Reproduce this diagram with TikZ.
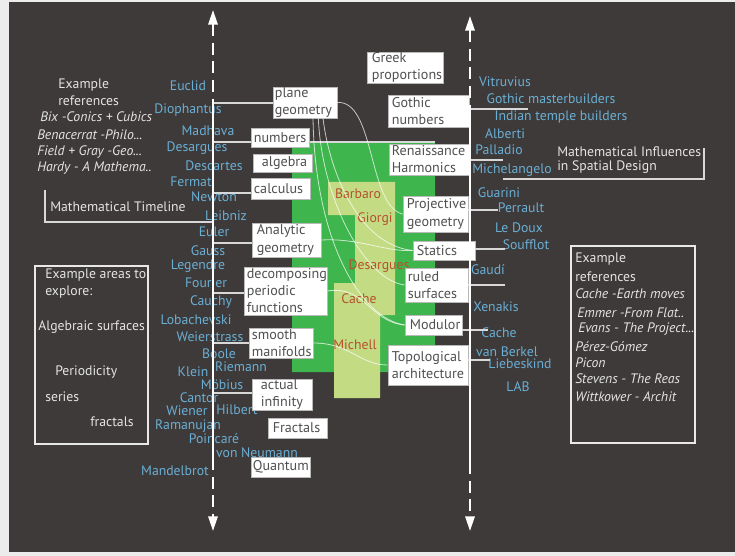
\documentclass[tikz,border=0pt]{standalone}
\usepackage{fontspec}
\setmainfont{PT Sans}
\usetikzlibrary{arrows.meta}
\definecolor{bgc}{HTML}{3E3A39}
\definecolor{namec}{HTML}{6AAFD5}
\definecolor{dgreen}{HTML}{3FB54D}
\definecolor{lgreen}{HTML}{C3DC84}
\definecolor{rust}{HTML}{B5502C}
\definecolor{wtext}{HTML}{E4E4E4}
\definecolor{btext}{HTML}{505050}
\definecolor{linec}{HTML}{D8D8D8}
\newcommand\wbx[7]{%
  \node[boxr,minimum width=#4*0.75pt,minimum height=#5*0.75pt] (#1) at (#2,#3) {};
  \node[boxt] (#1t) at ([xshift=#6*0.75pt]#1.west) {#7};}
\begin{document}
\begin{tikzpicture}[x=0.75pt,y=-0.75pt,
 nm/.style={text=namec,font=\fontsize{10.3}{12}\selectfont,inner sep=0pt},
 wt/.style={text=wtext,font=\fontsize{10.3}{12.5}\selectfont,inner sep=0pt,anchor=west,align=left},
 wti/.style={text=wtext,font=\fontsize{10.3}{12.5}\selectfont\itshape,inner sep=0pt,anchor=west,align=left},
 boxr/.style={draw=gray!55,fill=white,line width=0.6pt,inner sep=0pt},
 boxt/.style={text=btext,font=\fontsize{10.6}{12.8}\selectfont,inner sep=0pt,anchor=west,align=left},
 gt/.style={text=rust,font=\fontsize{10.3}{12}\selectfont,inner sep=0pt},
 frame/.style={draw=wtext!85,line width=1.1pt,inner sep=0pt},
 conn/.style={draw=linec,line width=0.9pt},
 curve/.style={draw=white,opacity=0.7,line width=0.6pt},
 axis/.style={draw=white,line width=1.6pt},
 dsh/.style={dash pattern=on 9pt off 5pt}
]
\useasboundingbox (0,0) rectangle (735,556);
\fill[gray!15] (0,0) rectangle (735,556);
\fill[bgc] (9,2) rectangle (735,552);

% green areas
\fill[dgreen] (292,142) -- (435,142) -- (435,345) -- (395,345) -- (395,372) -- (292,372) -- cycle;
\fill[lgreen] (328,182) -- (395,182) -- (395,315) -- (380,315) -- (380,398) -- (334,398) -- (334,283) -- (355,283) -- (355,215) -- (328,215) -- cycle;

% green labels
\node[gt] (g1) at (358,194) {Barbaro};
\node[gt] (g2) at (375,219) {Giorgi};
\node[gt] (g3) at (379,266) {Desargues};
\node[gt] (g4) at (359,299) {Cache};
\node[gt] (g5) at (355,345) {Michell};

% left names
\node[nm] (n1) at (188,86) {Euclid};
\node[nm] (n2) at (188,110) {Diophantus};
\node[nm] (n3) at (208,131) {Madhava};
\node[nm] (n4) at (197,148) {Desargues};
\node[nm] (n5) at (214,166) {Descartes};
\node[nm] (n6) at (191,182) {Fermat};
\node[nm] (n7) at (214,197) {Newton};
\node[nm] (n8) at (226,216) {Leibniz};
\node[nm] (n9) at (214,232) {Euler};
\node[nm] (n10) at (208,251) {Gauss};
\node[nm] (n11) at (198,266) {Legendre};
\node[nm] (n12) at (206,283) {Fourier};
\node[nm] (n13) at (211,302) {Cauchy};
\node[nm] (n14) at (196,320) {Lobachevski};
\node[nm] (n15) at (210,337) {Weierstrass};
\node[nm] (n16) at (219,354) {Boole};
\node[nm] (n17) at (193,372) {Klein};
\node[nm] (n18) at (241,367) {Riemann};
\node[nm] (n19) at (222,385) {Möbius};
\node[nm] (n20) at (199,398) {Cantor};
\node[nm] (n21) at (187,411) {Wiener};
\node[nm] (n22) at (237,410) {Hilbert};
\node[nm] (n23) at (188,426) {Ramanujan};
\node[nm] (n24) at (214,439) {Poincaré};
\node[nm] (n25) at (257,453) {von Neumann};
\node[nm] (n26) at (175,471) {Mandelbrot};

% right names
\node[nm] (r1) at (505,82) {Vitruvius};
\node[nm] (r2) at (551,99) {Gothic masterbuilders};
\node[nm] (r3) at (561,117) {Indian temple builders};
\node[nm] (r4) at (505,134) {Alberti};
\node[nm] (r5) at (499,150) {Palladio};
\node[nm] (r6) at (512,170) {Michelangelo};
\node[nm] (r7) at (499,193) {Guarini};
\node[nm] (r8) at (521,208) {Perrault};
\node[nm] (r9) at (519,228) {Le Doux};
\node[nm] (r10) at (526,245) {Soufflot};
\node[nm] (r11) at (488,270) {Gaudí};
\node[nm] (r12) at (496,307) {Xenakis};
\node[nm] (r13) at (499,333) {Cache};
\node[nm] (r14) at (507,352) {van Berkel};
\node[nm] (r15) at (520,364) {Liebeskind};
\node[nm] (r16) at (518,387) {LAB};

% axis coordinates
\coordinate (LT) at (213,10);
\coordinate (LA) at (213,102);
\coordinate (LB) at (213,458);
\coordinate (LE) at (213,531);
\coordinate (RT) at (470,16);
\coordinate (RA) at (470,107);
\coordinate (RB) at (470,462);
\coordinate (RE) at (470,531);

% connector points on the axes
\coordinate (l1) at (213,103);
\coordinate (l2) at (213,142);
\coordinate (l2e) at (435,142);
\coordinate (l3) at (213,193);
\coordinate (l4) at (213,243);
\coordinate (l5) at (213,293);
\coordinate (l6) at (213,343);
\coordinate (l7) at (213,393);
\coordinate (tl1) at (45,190);
\coordinate (tl2) at (45,222);
\coordinate (tl3) at (213,222);
\coordinate (q1) at (470,109);
\coordinate (q1e) at (528,109);
\coordinate (q2) at (503,160);
\coordinate (q3) at (498,210);
\coordinate (q4) at (505,249);
\coordinate (q5) at (505,285);
\coordinate (q6) at (488,330);
\coordinate (q7) at (490,360);
\coordinate (mi1) at (503,179);
\coordinate (mi2) at (704,179);
\coordinate (mi3) at (704,148);

\draw[conn] (l2) -- (l2e);
\draw[conn] (tl1) -- (tl2) -- (tl3);
\draw[conn] (q1) -- (q1e);
\draw[conn] (mi1) -- (mi2) -- (mi3);

% boxes
\wbx{greek}{405}{67.5}{76}{31}{5}{Greek\\proportions}
\wbx{gothic}{428.5}{111}{81}{32}{4}{Gothic\\numbers}
\wbx{renai}{429}{159.5}{80}{31}{3}{Renaissance\\Harmonics}
\wbx{plane}{305}{102.5}{64}{31}{2}{plane\\geometry}
\wbx{numb}{280}{137.5}{58}{19}{3}{numbers}
\wbx{alg}{282.5}{163}{59}{18}{9}{algebra}
\wbx{calc}{280.5}{188.5}{59}{21}{3}{calculus}
\wbx{anal}{286.5}{240}{69}{34}{5}{Analytic\\geometry}
\wbx{decomp}{285.5}{291}{83}{48}{3}{decomposing\\periodic\\functions}
\wbx{smooth}{281}{343}{64}{30}{3}{smooth\\manifolds}
\wbx{actual}{282}{394.5}{60}{31}{9}{actual\\infinity}
\wbx{fract}{297.5}{428}{59}{20}{5}{Fractals}
\wbx{quant}{280.5}{467}{59}{20}{2}{Quantum}
\wbx{proj}{435.5}{214}{65}{36}{4}{Projective\\geometry}
\wbx{stat}{444}{250.5}{62}{19}{4}{Statics}
\wbx{ruled}{436.5}{285}{63}{34}{3}{ruled\\surfaces}
\wbx{modul}{433.5}{325}{57}{20}{5}{Modulor}
\wbx{topo}{428}{365}{80}{40}{4}{Topological\\architecture}

% horizontal connectors
\draw[conn] (l1) -- (l1 -| plane.west);
\draw[conn] (l3) -- (l3 -| calc.west);
\draw[conn] (l4) -- (l4 -| anal.west);
\draw[conn] (l5) -- (l5 -| decomp.west);
\draw[conn] (l6) -- (l6 -| smooth.west);
\draw[conn] (l7) -- (l7 -| actual.west);
\draw[conn] (q2 -| renai.east) -- (q2);
\draw[conn] (q3 -| proj.east) -- (q3);
\draw[conn] (q4 -| stat.east) -- (q4);
\draw[conn] (q5 -| ruled.east) -- (q5);
\draw[conn] (q6 -| modul.east) -- (q6);
\draw[conn] (q7 -| topo.east) -- (q7);

% curves
\draw[curve] (plane.east) .. controls (375,100) and (368,206) .. (proj.west);
\draw[curve] ([xshift=13.5pt]plane.south) .. controls (330,175) and (360,245) .. (stat.west);
\draw[curve] ([xshift=10pt]plane.south) .. controls (322,200) and (365,280) .. (ruled.west);
\draw[curve] ([xshift=6pt]plane.south) .. controls (315,240) and (360,318) .. (modul.west);
\draw[curve] (anal.east) .. controls (360,238) and (385,252) .. (stat.west);
\draw[curve] (decomp.east) .. controls (365,285) and (370,322) .. (modul.west);
\draw[curve] (smooth.east) .. controls (350,343) and (360,365) .. (topo.west);

% axes
\draw[axis,dsh,arrows={Triangle[width=7pt,length=11pt]-}] (LT) -- (LA);
\draw[axis] (LA) -- (LB);
\draw[axis,dsh,arrows={-Triangle[width=7pt,length=11pt]}] (LB) -- (LE);
\draw[axis,dsh,arrows={Triangle[width=7pt,length=11pt]-}] (RT) -- (RA);
\draw[axis] (RA) -- (RB);
\draw[axis,dsh,arrows={-Triangle[width=7pt,length=11pt]}] (RB) -- (RE);

% left references text
\node[wt] (t1) at (58,85) {Example};
\node[wt] (t2) at (58,101) {references};
\node[wti] (t3) at (40,117) {Bix -Conics + Cubics};
\node[wti] (t4) at (37,135) {Benacerrat -Philo...};
\node[wti] (t5) at (37,152) {Field + Gray -Geo...};
\node[wti] (t6) at (37,168) {Hardy - A Mathema..};
\node[wt] (t7) at (50,207) {Mathematical Timeline};
\node[wt] (t8) at (557,152) {Mathematical Influences};
\node[wt] (t9) at (557,167) {in Spatial Design};

% left box
\node[frame,minimum width=113*0.75pt,minimum height=178*0.75pt] (lbox) at (91.5,355) {};
\node[wt] (a1) at (45,275) {Example areas to};
\node[wt] (a2) at (45,292) {explore:};
\node[wt] (a3) at (38,327) {Algebraic surfaces};
\node[wt] (a4) at (55,372) {Periodicity};
\node[wt] (a5) at (45,397) {series};
\node[wt] (a6) at (90,422) {fractals};

% right box
\node[frame,minimum width=124*0.75pt,minimum height=197*0.75pt] (rbox) at (633,344.5) {};
\node[wt] (b1) at (575,259) {Example};
\node[wt] (b2) at (575,277) {references};
\node[wti] (b3) at (575,294) {Cache -Earth moves};
\node[wti] (b4) at (577,313) {Emmer -From Flat..};
\node[wti] (b5) at (578,329) {Evans - The Project...};
\node[wti] (b6) at (575,347) {Pérez-Gómez};
\node[wti] (b7) at (575,363) {Picon};
\node[wti] (b8) at (575,379) {Stevens - The Reas};
\node[wti] (b9) at (575,397) {Wittkower - Archit};
\end{tikzpicture}
\end{document}
